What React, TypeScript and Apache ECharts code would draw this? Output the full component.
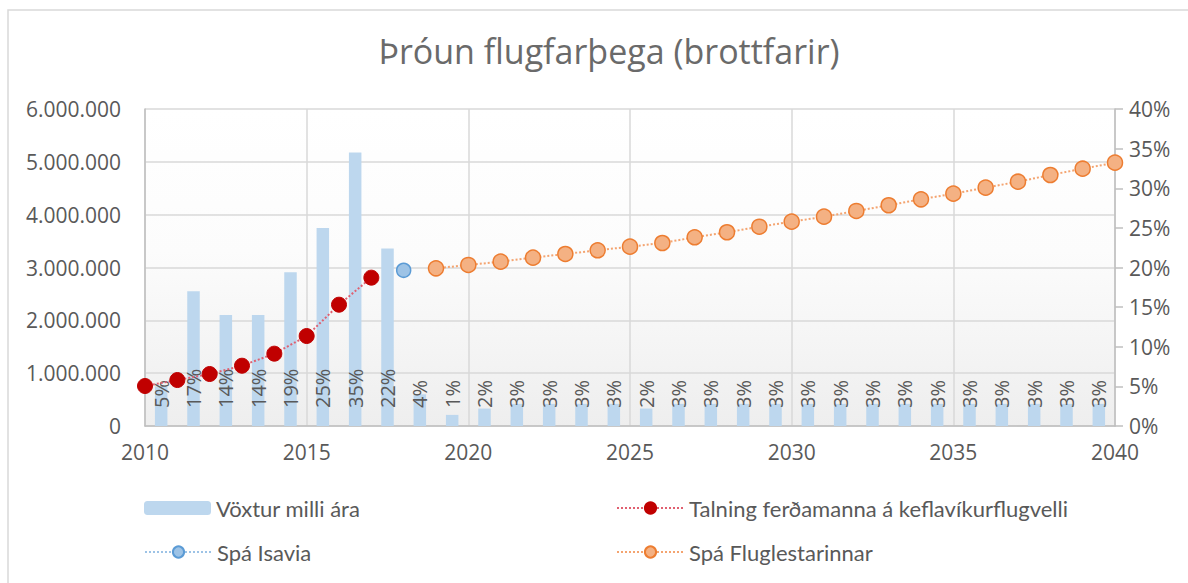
import React, { useEffect, useRef } from "react";
import * as echarts from "echarts";

const titleText = "Þróun flugfarþega (brottfarir)";

const barCategories = [
  "2010", "2011", "2012", "2013", "2014", "2015", "2016", "2017", "2018", "2019",
  "2020", "2021", "2022", "2023", "2024", "2025", "2026", "2027", "2028", "2029",
  "2030", "2031", "2032", "2033", "2034", "2035", "2036", "2037", "2038", "2039",
];
const growthValues = [
  0.05, 0.17, 0.14, 0.14, 0.194, 0.25, 0.345, 0.224, 0.04, 0.014,
  0.022, 0.028, 0.028, 0.028, 0.028, 0.022, 0.028, 0.028, 0.028, 0.028,
  0.028, 0.028, 0.028, 0.028, 0.028, 0.028, 0.028, 0.028, 0.028, 0.028,
];

const countYears = [2010, 2011, 2012, 2013, 2014, 2015, 2016, 2017];
const countValues = [757000, 870000, 984000, 1141000, 1369000, 1703000, 2296000, 2808000];

const isaviaYears = [2018];
const isaviaValues = [2947000];

const forecastYears = [
  2019, 2020, 2021, 2022, 2023, 2024, 2025, 2026, 2027, 2028, 2029,
  2030, 2031, 2032, 2033, 2034, 2035, 2036, 2037, 2038, 2039, 2040,
];
const forecastValues = [
  2985000, 3048000, 3110000, 3186000, 3256000, 3326000, 3394000, 3464000, 3572000, 3667000, 3772000,
  3867000, 3962000, 4070000, 4178000, 4291000, 4397000, 4511000, 4624000, 4751000, 4870000, 4984000,
];

const seriesNames = [
  "Vöxtur milli ára",
  "Talning ferðamanna á keflavíkurflugvelli",
  "Spá Isavia",
  "Spá Fluglestarinnar",
];

const FONT = "'Open Sans', 'Noto Sans', sans-serif";
const FONT2 = "Lato, 'Open Sans', sans-serif";
const TEXT = "#595959";

function fmtThousands(v: number) {
  return String(Math.round(v)).replace(/\B(?=(\d{3})+(?!\d))/g, ".");
}

export default function App() {
  const ref = useRef<HTMLDivElement>(null);

  useEffect(() => {
    document.body.style.margin = "0";
    document.body.style.overflow = "hidden";
    if (!ref.current) return;
    const chart = echarts.init(ref.current, undefined, { renderer: "svg" });

    const pair = (xs: number[], ys: number[]) => xs.map((x, i) => [x, ys[i]]);

    const legendBase = {
      itemHeight: 14,
      itemWidth: 67,
      textStyle: { fontSize: 22, color: TEXT, fontFamily: FONT2 },
      selectedMode: false,
    };

    chart.setOption({
      animation: false,
      backgroundColor: "#ffffff",
      textStyle: { fontFamily: FONT },
      title: {
        text: titleText,
        left: 604,
        textAlign: "center",
        top: 29,
        textStyle: { fontSize: 34, fontWeight: "normal", color: "#6a6a6a", fontFamily: FONT },
      },
      graphic: [
        {
          type: "rect",
          shape: { x: 8, y: 10, width: 1400, height: 800 },
          style: { fill: "none", stroke: "#d9d9d9", lineWidth: 1.5 },
          silent: true,
          z: -10,
        },
      ],
      legend: [
        { ...legendBase, data: [seriesNames[0]], left: 139, top: 492 },
        { ...legendBase, data: [seriesNames[1]], left: 611, top: 492 },
        { ...legendBase, data: [seriesNames[2]], left: 139, top: 536 },
        { ...legendBase, data: [seriesNames[3]], left: 611, top: 536 },
      ],
      grid: {
        left: 145,
        right: 73,
        top: 109,
        bottom: 157,
        show: true,
        borderWidth: 0,
        backgroundColor: new echarts.graphic.LinearGradient(0, 0, 0, 1, [
          { offset: 0, color: "#ffffff" },
          { offset: 0.45, color: "#fcfcfc" },
          { offset: 1, color: "#eeeeee" },
        ]),
      },
      xAxis: [
        {
          type: "value",
          min: 2010,
          max: 2040,
          interval: 5,
          axisLine: { show: true, lineStyle: { color: "#bfbfbf", width: 1.5 } },
          axisTick: { show: false },
          axisLabel: {
            fontSize: 21,
            color: TEXT,
            fontFamily: FONT,
            margin: 15,
            formatter: (v: number) => String(v),
          },
          splitLine: { show: true, lineStyle: { color: "#d9d9d9", width: 1.5 } },
        },
        {
          type: "category",
          data: barCategories,
          show: false,
          boundaryGap: true,
        },
      ],
      yAxis: [
        {
          type: "value",
          min: 0,
          max: 6000000,
          interval: 1000000,
          axisLine: { show: true, lineStyle: { color: "#bfbfbf", width: 1.5 } },
          axisTick: { show: false },
          axisLabel: {
            fontSize: 21,
            color: TEXT,
            fontFamily: FONT,
            margin: 24,
            formatter: (v: number) => fmtThousands(v),
          },
          splitLine: { show: true, lineStyle: { color: "#d9d9d9", width: 1.5 } },
        },
        {
          type: "value",
          min: 0,
          max: 0.4,
          interval: 0.05,
          position: "right",
          axisLine: { show: true, lineStyle: { color: "#bfbfbf", width: 1.5 } },
          axisTick: { show: true, inside: false, length: 8, lineStyle: { color: "#bfbfbf", width: 1.5 } },
          axisLabel: {
            fontSize: 21,
            color: TEXT,
            fontFamily: FONT,
            margin: 14,
            formatter: (v: number) => Math.round(v * 100) + "%",
          },
          splitLine: { show: false },
        },
      ],
      series: [
        {
          name: seriesNames[0],
          type: "bar",
          xAxisIndex: 1,
          yAxisIndex: 1,
          data: growthValues,
          barWidth: 12.5,
          itemStyle: { color: "#bdd7ee" },
          z: 1,
          label: {
            show: true,
            position: "insideBottom",
            distance: 18,
            rotate: 90,
            align: "left",
            verticalAlign: "middle",
            fontSize: 20,
            color: TEXT,
            fontFamily: FONT,
            formatter: (p: any) => Math.round(p.value * 100) + "%",
          },
        },
        {
          name: seriesNames[1],
          type: "line",
          xAxisIndex: 0,
          yAxisIndex: 0,
          data: pair(countYears, countValues),
          symbol: "circle",
          symbolSize: 15,
          itemStyle: { color: "#c00000", borderColor: "#c00000", borderWidth: 1 },
          lineStyle: { color: "#e06070", width: 2, type: "dotted" },
          z: 5,
        },
        {
          name: seriesNames[2],
          type: "line",
          xAxisIndex: 0,
          yAxisIndex: 0,
          data: pair(isaviaYears, isaviaValues),
          symbol: "circle",
          symbolSize: 14,
          showAllSymbol: true,
          itemStyle: { color: "#9dc3e6", borderColor: "#5b9bd5", borderWidth: 1.5 },
          lineStyle: { color: "#9dc3e6", width: 2, type: "dotted" },
          z: 5,
        },
        {
          name: seriesNames[3],
          type: "line",
          xAxisIndex: 0,
          yAxisIndex: 0,
          data: pair(forecastYears, forecastValues),
          symbol: "circle",
          symbolSize: 15,
          itemStyle: { color: "#f4b183", borderColor: "#ed7d31", borderWidth: 1.5 },
          lineStyle: { color: "#f4a470", width: 2, type: "dotted" },
          z: 5,
        },
      ],
    });

    return () => {
      chart.dispose();
    };
  }, []);

  return <div ref={ref} style={{ width: 1188, height: 583 }} />;
}
